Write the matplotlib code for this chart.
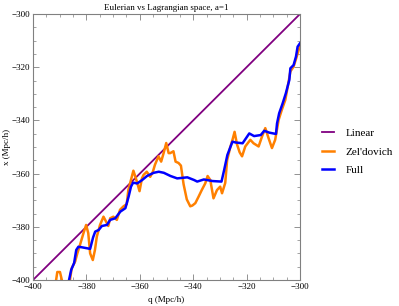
import numpy as np
import matplotlib
matplotlib.use("Agg")
import matplotlib.pyplot as plt
from matplotlib.ticker import MultipleLocator, FuncFormatter

plt.rcParams['font.family'] = ['Liberation Serif', 'DejaVu Serif']

# linear (q = x)
lin_q = [-400, -300]
lin_x = [-400, -300]

# Zel'dovich
zel_q = [-391.8, -391.4, -390.9, -389.9, -389.2, -388.5, -387.2, -386.4,
         -385.5, -384.2, -383.4, -382.4, -381.1, -380.1, -379.3, -378.6,
         -377.6, -376.8, -376.1, -374.9, -373.6, -372.6, -371.8, -371.1,
         -369.9, -368.6, -367.4, -366.1, -364.9, -364.3, -363.0, -362.4,
         -361.1, -360.1, -359.2, -358.6, -357.4, -356.1, -355.1, -354.3,
         -353.0, -352.0, -351.0, -350.1, -349.2, -348.6, -347.4, -346.6,
         -345.5, -344.6, -343.6, -342.4, -341.1, -340.3, -339.2, -338.0,
         -336.8, -335.5, -334.6, -333.6, -332.4, -331.1, -329.9, -329.2,
         -328.0, -327.3, -326.1, -325.2, -324.5, -323.6, -322.6, -321.7,
         -320.5, -318.6, -317.4, -315.5, -314.2, -313.0, -311.8, -310.5,
         -309.3, -308.0, -306.8, -305.5, -304.6, -303.6, -302.4, -301.4,
         -300.5, -300.0]
zel_x = [-401.5, -400.4, -397.0, -397.0, -400.0, -403.0, -404.0, -401.5,
         -395.6, -393.0, -390.0, -386.8, -382.4, -379.3, -382.4, -390.0,
         -392.5, -388.7, -383.7, -379.3, -376.2, -378.1, -379.7, -376.8,
         -376.2, -377.4, -373.6, -372.3, -371.5, -366.2, -361.2, -358.9,
         -363.0, -366.6, -361.8, -360.5, -359.3, -361.2, -359.3, -356.6,
         -353.5, -355.5, -352.0, -348.5, -352.3, -352.3, -351.6, -355.5,
         -356.0, -357.0, -364.0, -369.7, -372.3, -372.0, -371.1, -368.7,
         -366.2, -363.7, -360.9, -362.4, -369.3, -366.2, -364.9, -367.4,
         -363.5, -355.0, -350.0, -347.0, -344.3, -349.0, -352.0, -353.5,
         -349.8, -347.3, -348.6, -349.8, -346.0, -342.9, -346.6, -350.4,
         -347.3, -339.8, -336.0, -332.3, -327.3, -321.6, -319.8, -316.6,
         -313.5, -312.3]

# full
full_q = [-386.8, -386.5, -385.7, -384.6, -383.8, -383.0, -381.7, -379.6,
          -378.6, -377.5, -376.7, -375.4, -374.2, -372.3, -371.1, -369.2,
          -367.3, -365.4, -364.2, -363.3, -362.5, -361.0, -359.1, -357.3,
          -354.8, -352.9, -351.0, -348.5, -346.0, -342.2, -339.7, -338.5,
          -336.0, -332.8, -329.4, -328.4, -327.2, -325.3, -324.1, -321.5,
          -319.0, -317.2, -314.7, -313.4, -311.5, -309.0, -308.6, -307.8,
          -306.5, -305.3, -304.0, -303.6, -302.4, -301.5, -300.9, -300.0]
full_x = [-401.0, -400.0, -396.2, -393.6, -388.7, -387.5, -387.7, -388.1,
          -388.3, -384.0, -381.8, -381.2, -379.7, -379.3, -377.4, -376.8,
          -374.3, -373.0, -368.7, -364.9, -363.4, -363.7, -362.4, -360.9,
          -359.7, -359.3, -359.7, -360.9, -361.8, -361.4, -362.4, -363.0,
          -362.2, -362.8, -363.0, -358.6, -353.0, -348.0, -348.3, -348.6,
          -344.9, -345.9, -345.5, -343.9, -344.6, -345.1, -341.1, -337.3,
          -333.6, -329.8, -324.8, -320.4, -319.2, -316.0, -312.3, -311.0]

fig = plt.figure(figsize=(3.99, 3.06), dpi=100)
ax = fig.add_axes([33/399, 26/306, 267/399, 266/306])

ax.plot(lin_q, lin_x, color=(0.5, 0, 0.5), lw=1.3, label='Linear')
ax.plot(zel_q, zel_x, color=(1, 0.5, 0), lw=1.8, label="Zel'dovich")
ax.plot(full_q, full_x, color=(0, 0, 1), lw=1.8, label='Full')

ax.set_xlim(-400, -300)
ax.set_ylim(-400, -300)

for s in ax.spines.values():
    s.set_color('#808080')
    s.set_linewidth(0.8)

ax.xaxis.set_major_locator(MultipleLocator(20))
ax.yaxis.set_major_locator(MultipleLocator(20))
ax.xaxis.set_minor_locator(MultipleLocator(5))
ax.yaxis.set_minor_locator(MultipleLocator(5))
fmt = FuncFormatter(lambda v, p: '\u2212%d' % abs(v) if v < 0 else '%d' % v)
ax.xaxis.set_major_formatter(fmt)
ax.yaxis.set_major_formatter(fmt)
ax.tick_params(which='both', direction='in', top=True, right=True,
               color='#808080', labelsize=6.5, pad=2)
ax.tick_params(which='major', length=4, width=0.6)
ax.tick_params(which='minor', length=2, width=0.5)

ax.set_title('Eulerian vs Lagrangian space, a=1', fontsize=6.5, pad=3)
ax.set_xlabel('q (Mpc/h)', fontsize=6.5, labelpad=4)
ax.set_ylabel('x (Mpc/h)', fontsize=6.5, labelpad=0.5)

ax.legend(loc='center left', bbox_to_anchor=(1.082, 0.482), frameon=False,
          fontsize=8, handlelength=1.1, handletextpad=1.0, labelspacing=0.8,
          borderpad=0, borderaxespad=0)

fig.savefig('out.png', dpi=100)
